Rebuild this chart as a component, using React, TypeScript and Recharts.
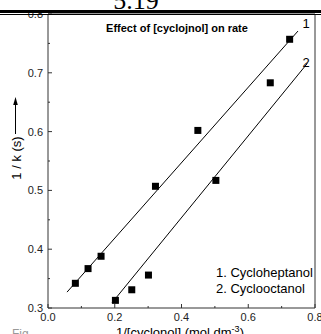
import React from 'react'
import { ComposedChart, Scatter, Line, XAxis, YAxis, ReferenceArea } from 'recharts'

// measured points
const cycloheptanol = [
  { x: 0.082, y: 0.342 },
  { x: 0.12, y: 0.367 },
  { x: 0.159, y: 0.388 },
  { x: 0.322, y: 0.507 },
  { x: 0.449, y: 0.602 },
  { x: 0.724, y: 0.757 },
]
const cyclooctanol = [
  { x: 0.202, y: 0.313 },
  { x: 0.251, y: 0.331 },
  { x: 0.301, y: 0.356 },
  { x: 0.503, y: 0.517 },
  { x: 0.666, y: 0.683 },
]

// fitted lines, endpoints
const fit1 = [
  { x: 0.057, y: 0.327 },
  { x: 0.749, y: 0.771 },
]
const fit2 = [
  { x: 0.192, y: 0.309 },
  { x: 0.777, y: 0.716 },
]

const xTicks = [0, 0.1, 0.2, 0.3, 0.4, 0.5, 0.6, 0.7, 0.8]
const yTicks = [0.3, 0.35, 0.4, 0.45, 0.5, 0.55, 0.6, 0.65, 0.7, 0.75, 0.8]

const font = '"Liberation Sans", Arial, sans-serif'

const isMajor = (v: number) => Math.abs(v * 10 - Math.round(v * 10)) < 1e-6

const YTick = (props: any) => {
  const { x, y, payload } = props
  const v = payload.value as number
  const major = isMajor(v)
  return (
    <g>
      <line x1={x} x2={x + (major ? 4 : 2)} y1={y} y2={y} stroke="#333" />
      {major && (
        <text x={x - 5} y={y + 4} textAnchor="end" fontSize={11} fill="#222" fontFamily={font}>
          {v.toFixed(1)}
        </text>
      )}
    </g>
  )
}

const XTick = (props: any) => {
  const { x, y, payload } = props
  const v = payload.value as number
  const major = isMajor(v * 0.5)
  return (
    <g>
      <line x1={x} x2={x} y1={y} y2={y - (major ? 4 : 2)} stroke="#333" />
      {major && (
        <text x={x} y={y + 13} textAnchor="middle" fontSize={11} fill="#222" fontFamily={font}>
          {v.toFixed(1)}
        </text>
      )}
    </g>
  )
}

const Square = (props: any) => {
  const { cx, cy } = props
  return <rect x={cx - 3.5} y={cy - 3.5} width={7} height={7} fill="#000" />
}

export default function App() {
  return (
    <div style={{ position: 'absolute', left: 0, top: 0, width: 321, height: 334, background: '#fff', overflow: 'hidden' }}>
      <ComposedChart width={321} height={334} margin={{ top: 14, right: 6, left: 0, bottom: 0 }}>
        <XAxis
          dataKey="x"
          type="number"
          domain={[0, 0.8]}
          ticks={xTicks}
          interval={0}
          height={26}
          tickSize={0}
          tickMargin={0}
          axisLine={false}
          tick={<XTick />}
          allowDataOverflow
        />
        <YAxis
          type="number"
          domain={[0.3, 0.8]}
          ticks={yTicks}
          interval={0}
          width={48}
          tickSize={0}
          tickMargin={0}
          axisLine={false}
          tick={<YTick />}
          allowDataOverflow
        />
        <ReferenceArea x1={0} x2={0.8} y1={0.3} y2={0.8} fill="none" stroke="#333" strokeWidth={1} />
        <Line data={fit1} dataKey="y" type="linear" stroke="#000" strokeWidth={1} dot={false} isAnimationActive={false} />
        <Line data={fit2} dataKey="y" type="linear" stroke="#000" strokeWidth={1} dot={false} isAnimationActive={false} />
        <Scatter data={cycloheptanol} dataKey="y" shape={<Square />} isAnimationActive={false} />
        <Scatter data={cyclooctanol} dataKey="y" shape={<Square />} isAnimationActive={false} />
      </ComposedChart>
      <svg width={321} height={334} style={{ position: 'absolute', left: 0, top: 0, pointerEvents: 'none' }}>
        <text x={136} y={9} textAnchor="middle" fontSize={26} fontFamily='"Liberation Serif", serif' fill="#000">5.19</text>
        <rect x={0} y={10} width={321} height={3} fill="#000" />
        <line x1={0} x2={321} y1={14.5} y2={14.5} stroke="#000" strokeWidth={1} />
        <text x={177} y={32} textAnchor="middle" fontSize={11} fontWeight="bold" fontFamily={font} fill="#000">
          Effect of [cyclojnol] on rate
        </text>
        <text x={306} y={28} textAnchor="middle" fontSize={13} fontFamily={font} fill="#000">1</text>
        <text x={306} y={67} textAnchor="middle" fontSize={13} fontFamily={font} fill="#000">2</text>
        <text x={216} y={277} fontSize={13} fontFamily={font} fill="#000">1. Cycloheptanol</text>
        <text x={216} y={293} fontSize={13} fontFamily={font} fill="#000">2. Cyclooctanol</text>
        <text x={21} y={158} transform="rotate(-90 21 158)" textAnchor="middle" fontSize={13} fontFamily={font} fill="#000">
          1 / k (s)
        </text>
        <line x1={15.5} x2={15.5} y1={134} y2={104} stroke="#000" strokeWidth={1} />
        <polygon points="15.5,97 13.2,105 17.8,105" fill="#000" />
        <text x={180} y={337} textAnchor="middle" fontSize={13} fontFamily={font} fill="#000">
          1/[cyclonol] (mol dm<tspan dy={-5} fontSize={9}>-3</tspan><tspan dy={5}>)</tspan>
        </text>
        <text x={12} y={338} fontSize={12} fontFamily={font} fill="#999">Fig</text>
      </svg>
    </div>
  )
}
